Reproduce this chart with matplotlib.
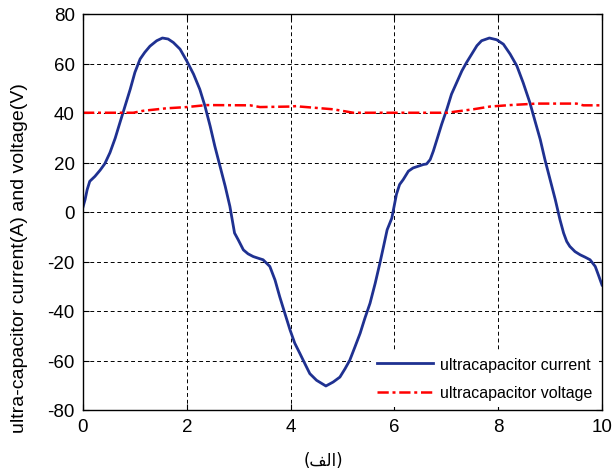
import numpy as np
import matplotlib.pyplot as plt

# data
t_current = [0, 0.04, 0.08, 0.13, 0.23, 0.33, 0.42, 0.52, 0.62, 0.71, 0.81, 0.91, 1.0, 1.1,
             1.19, 1.29, 1.42, 1.53, 1.64, 1.74, 1.87, 2.0, 2.13, 2.25, 2.35, 2.45, 2.54,
             2.64, 2.74, 2.83, 2.92, 2.99, 3.09, 3.18, 3.28, 3.38, 3.47, 3.6, 3.7, 3.79,
             3.89, 3.99, 4.08, 4.18, 4.28, 4.37, 4.5, 4.68, 4.82, 4.95, 5.05, 5.14, 5.24,
             5.34, 5.43, 5.53, 5.63, 5.72, 5.79, 5.86, 5.95, 6.04, 6.1, 6.17, 6.27,
             6.36, 6.46, 6.56, 6.62, 6.69, 6.75, 6.82, 6.91, 7.01, 7.1, 7.2, 7.3, 7.39,
             7.49, 7.59, 7.68, 7.83, 7.97, 8.1, 8.23, 8.36, 8.48, 8.61, 8.71, 8.81, 8.9,
             9.0, 9.1, 9.19, 9.26, 9.32, 9.38, 9.48, 9.58, 9.67, 9.77, 9.87, 9.93, 10.0]
current = [2, 5, 9, 12.4, 14.4, 16.9, 19.5, 24, 29.8, 36, 42.8, 49.6, 56.4, 61.8,
           64.5, 67, 69.2, 70.3, 69.9, 68.5, 65.8, 61, 55.7, 49.6, 42.8, 34.7, 26.6,
           18.5, 10.4, 2.3, -8.5, -11.2, -15.3, -16.9, -18, -18.7, -19.3, -22, -27.5, -34.2,
           -41, -47.7, -53, -57.2, -61.5, -65.3, -68, -70.3, -68.7, -66.7, -63.3, -59.9, -54.5,
           -49, -43, -36.9, -28.8, -20.7, -14, -7.2, -2.5, 7.2, 11.1, 13.1, 16.5,
           17.8, 18.5, 19.2, 19.4, 21.2, 24.6, 29.3, 35.4, 41.5, 47.6, 52.3, 57, 60.4,
           63.8, 67.2, 69.2, 70.3, 69.6, 67.8, 63.8, 59, 52.3, 44.2, 36.7, 29.3, 21.2,
           13.1, 5, -3.1, -8.5, -11.9, -13.9, -16, -17.3, -18.2, -19.3, -22, -25.4, -29.5]

t_voltage = [0, 0.97, 1.16, 1.61, 2.0, 2.38, 3.22, 3.41, 3.99, 4.12, 4.18, 4.82, 5.21,
             7.01, 7.52, 7.84, 8.23, 8.74, 9.51, 9.64, 10.0]
voltage = [40.1, 40.1, 40.9, 41.9, 42.4, 43.2, 43.1, 42.4, 42.6, 42.8, 42.6, 41.5, 40.1,
           40.1, 41.5, 42.6, 43.2, 43.8, 43.8, 43.1, 43.1]

x_ticks = [0, 2, 4, 6, 8, 10]
y_ticks = [-80, -60, -40, -20, 0, 20, 40, 60, 80]

plt.rcParams['font.family'] = ['Liberation Sans', 'DejaVu Sans']
plt.rcParams['axes.unicode_minus'] = False

fig = plt.figure(figsize=(6.14, 4.77), dpi=100)
ax = fig.add_axes([83 / 614, 1 - 411 / 477, (602 - 83) / 614, (411 - 15) / 477])

ax.plot(t_current, current, color='#1f3191', linewidth=2.0, label='ultracapacitor current')
ax.plot(t_voltage, voltage, color='red', linewidth=1.8, linestyle='-.',
        dashes=(4.5, 1.5, 1.2, 1.5), label='ultracapacitor voltage')

ax.set_xlim(0, 10)
ax.set_ylim(-80, 80)
ax.set_xticks(x_ticks)
ax.set_yticks(y_ticks)
ax.tick_params(direction='in', top=True, right=True, labelsize=13.5, length=4, pad=6)
ax.grid(True, color='black', linestyle=(0, (4, 3)), linewidth=0.7)
for s in ax.spines.values():
    s.set_linewidth(1.0)

# x label (Arabic, visual order with presentation forms)
ax.set_xlabel('(\ufed2\ufedf\ufe8d)', family=['DejaVu Sans'], fontsize=12)
ax.xaxis.set_label_coords((323 - 83) / 519, -(452 - 411) / 396)

fig.text(20 / 614, 1 - 83 / 477, 'ultra-capacitor current(A) and voltage(V)', rotation=90,
         ha='center', va='top', fontsize=14)

leg = ax.legend(loc='lower right', fontsize=11.5, handlelength=3.5, handletextpad=0.45,
                labelspacing=0.85, borderaxespad=0.2, fancybox=False, framealpha=1)
leg.get_frame().set_edgecolor('none')

fig.savefig('out.png', dpi=100)
